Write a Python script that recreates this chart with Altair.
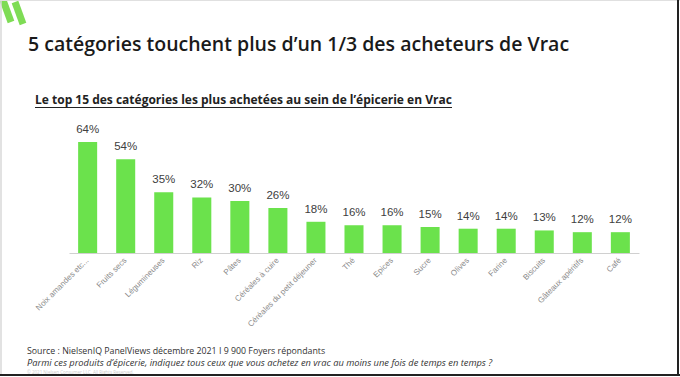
import altair as alt
import pandas as pd

categories = ["Noix amandes etc...", "Fruits secs", "Légumineuses", "Riz", "Pâtes",
              "Céréales à cuire", "Céréales du petit déjeuner", "Thé", "Epices", "Sucre",
              "Olives", "Farine", "Biscuits", "Gâteaux apéritifs", "Café"]
values = [64, 54, 35, 32, 30, 26, 18, 16, 16, 15, 14, 14, 13, 12, 12]
labels = [f"{v}%" for v in values]

title_text = "5 catégories touchent plus d’un 1/3 des acheteurs de Vrac"
subtitle_text = "Le top 15 des catégories les plus achetées au sein de l’épicerie en Vrac"
source_text = "Source : NielsenIQ PanelViews décembre 2021 I 9 900 Foyers répondants"
question_text = "Parmi ces produits d’épicerie, indiquez tous ceux que vous achetez en vrac au moins une fois de temps en temps ?"
copyright_text = "© 2021 Nielsen Consumer LLC. All Rights Reserved."

df = pd.DataFrame({"cat": categories, "val": values, "lab": labels})
one = pd.DataFrame({"a": [0]})

GREEN = "#6be24c"
FONT = "Open Sans"
SANS = "Liberation Sans"

x = alt.X("cat:N", sort=None,
          scale=alt.Scale(paddingInner=0.5, paddingOuter=0.24),
          axis=alt.Axis(title=None, labelAngle=-45, labelAlign="right", labelBaseline="middle",
                        labelFontSize=8, labelColor="#8a8a8a", labelFont=SANS,
                        labelPadding=6, ticks=False, domainColor="#d0d0d0", domainWidth=1,
                        labelLimit=200, labelOverlap=False))
y = alt.Y("val:Q", scale=alt.Scale(domain=[0, 70.9], nice=False), axis=None)

bars = alt.Chart(df).mark_bar(color=GREEN).encode(x=x, y=y)
txt = alt.Chart(df).mark_text(dy=-7, baseline="bottom", fontSize=11.5, color="#404040", font=SANS).encode(
    x=x, y=y, text="lab:N")

def label(text, xv, yv, size, weight="normal", style="normal", color="#222222", font=FONT):
    return alt.Chart(one).mark_text(align="left", baseline="middle", fontSize=size, fontWeight=weight,
                                    fontStyle=style, color=color, font=font, text=text).encode(
        x=alt.value(xv), y=alt.value(yv))

def rule(x1, y1, x2, y2, color, w):
    return alt.Chart(one).mark_rule(color=color, strokeWidth=w).encode(
        x=alt.value(x1), y=alt.value(y1), x2=alt.value(x2), y2=alt.value(y2))

OX, OY = 69, 130
title = label(title_text, 28 - OX, 45 - OY, 19.5, weight=600, color="#1a1a1a")
subtitle = label(subtitle_text, 35 - OX, 100 - OY, 12, weight="bold", color="#222222")
underline = rule(35 - OX, 107.5 - OY, 452 - OX, 107.5 - OY, "#222222", 1)
source = label(source_text, 27 - OX, 350.5 - OY, 8.8, color="#333333")
question = label(question_text, 27 - OX, 362.5 - OY, 9.3, style="italic", color="#333333")
copyr = label(copyright_text, 27 - OX, 373 - OY, 4.5, color="#cccccc")

logo1 = rule(3 - OX, 0 - OY, 11 - OX, 22 - OY, "#7edc55", 7)
logo2 = rule(15 - OX, 2 - OY, 23 - OX, 24 - OY, "#7edc55", 7)

frame_l = rule(1 - OX, 0 - OY, 1 - OX, 376 - OY, "#d8d8d8", 1.5)
frame_t = rule(0 - OX, 0.5 - OY, 680 - OX, 0.5 - OY, "#e0e0e0", 1)
frame_r = rule(678 - OX, 0 - OY, 678 - OX, 376 - OY, "#222222", 2)
frame_b = rule(0 - OX, 375 - OY, 680 - OX, 375 - OY, "#222222", 2)

chart = alt.layer(bars, txt, title, subtitle, underline, source, question, copyr,
                  logo1, logo2, frame_l, frame_t, frame_r, frame_b).properties(
    width=570, height=123,
    autosize=alt.AutoSizeParams(type="none"),
    padding={"left": OX, "top": OY, "right": 680 - OX - 570, "bottom": 377 - OY - 123},
    background="white",
).configure_view(stroke=None)

chart.save("out.html", embed_options={"renderer": "svg", "actions": False})
